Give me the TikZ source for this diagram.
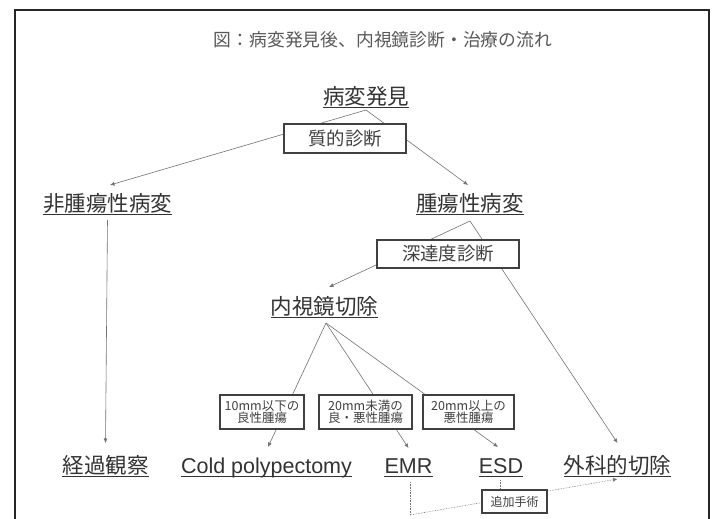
\documentclass[tikz,border=0pt]{standalone}
\usepackage{fontspec}
\setmainfont{Liberation Sans}
\newfontfamily\jp{Noto Sans CJK JP}
\usetikzlibrary{arrows.meta}
\begin{document}
\begin{tikzpicture}[x=1pt,y=-1pt,
  lbl/.style={inner sep=0pt, anchor=base, text=black!80, font=\fontsize{21.5}{24}\selectfont},
  jl/.style={lbl, font=\jp\fontsize{21.5}{24}\selectfont},
  box/.style={draw=black!75, line width=1.1pt, fill=white, inner sep=0pt, align=center, text=black!75},
  bigbox/.style={box, font=\jp\fontsize{18.4}{20}\selectfont},
  smallbox/.style={box, minimum height=34pt, font=\jp\fontsize{12.5}{12.5}\selectfont},
  conn/.style={draw=black!55, line width=0.6pt},
  arr/.style={conn, -{Latex[length=4.5pt,width=4pt]}},
  dotl/.style={conn, densely dotted},
  dotarr/.style={dotl, -{Latex[length=4.5pt,width=4pt]}},
  ul/.style={draw=black!80, line width=0.8pt}
]
\useasboundingbox (0,0) rectangle (718,519);
\fill[white] (0,0) rectangle (718,519);
% frame
\draw[black!85, line width=1.4pt] (15,530) -- (15,10) -- (709,10) -- (709,530);
% title
\node[font=\jp\fontsize{17.8}{20}\selectfont, text=black!65, inner sep=0pt] (title) at (383,40) {図：病変発見後、内視鏡診断・治療の流れ};

% labels
\node[jl] (hakken) at (366,104) {病変発見};
\node[jl] (hishuyo) at (107.5,211) {非腫瘍性病変};
\node[jl] (shuyo) at (470,211) {腫瘍性病変};
\node[jl] (naishi) at (324.5,314) {内視鏡切除};
\node[jl] (keika) at (105.5,473) {経過観察};
\node[lbl] (cold) at (266.5,473) {Cold polypectomy};
\node[lbl] (emr) at (408.5,473) {EMR};
\node[lbl] (esd) at (501,473) {ESD};
\node[jl] (geka) at (617.5,473) {外科的切除};

\foreach \n in {hakken,hishuyo,shuyo,naishi,keika,cold,emr,esd,geka}
  \draw[ul] ([yshift=-3.5pt]\n.base west) -- ([yshift=-3.5pt]\n.base east);

% connector end points
\coordinate (hakkenB) at ([yshift=-6pt]hakken.base);
\coordinate (hishuyoT) at ([xshift=2.5pt,yshift=26pt]hishuyo.base);
\coordinate (hishuyoB) at ([yshift=-9pt]hishuyo.base);
\coordinate (shuyoT) at ([xshift=-2pt,yshift=26pt]shuyo.base);
\coordinate (shuyoB) at ([yshift=-10pt]shuyo.base);
\coordinate (naishiT) at ([xshift=4.5pt,yshift=27pt]naishi.base);
\coordinate (naishiB) at ([xshift=1.5pt,yshift=-9pt]naishi.base);
\coordinate (keikaT) at ([yshift=30pt]keika.base);
\coordinate (coldT) at ([xshift=1.5pt,yshift=26pt]cold.base);
\coordinate (emrT) at ([yshift=25pt]emr.base);
\coordinate (emrB) at ([xshift=1.5pt,yshift=-9pt]emr.base);
\coordinate (esdT) at ([xshift=-3pt,yshift=26pt]esd.base);
\coordinate (esdB) at ([xshift=-1pt,yshift=-7pt]esd.base);
\coordinate (gekaT) at ([yshift=30pt]geka.base);
\coordinate (gekaB) at ([yshift=-6pt]geka.base);
\coordinate (corner) at (emrB |- 0,515);

% connectors (drawn beneath boxes)
\draw[arr] (hakkenB) -- (hishuyoT);
\draw[arr] (hakkenB) -- (shuyoT);
\draw[arr] (hishuyoB) -- (keikaT);
\draw[arr] (shuyoB) -- (naishiT);
\draw[arr] (shuyoB) -- (gekaT);
\draw[arr] (naishiB) -- (coldT);
\draw[arr] (naishiB) -- (emrT);
\draw[arr] (naishiB) -- (esdT);
\draw[dotl] (emrB) -- (corner);
\draw[dotarr] (corner) -- (gekaB);

% boxes
\node[bigbox, minimum width=122pt, minimum height=29pt] (shitsu) at (345,138.5) {質的診断};
\node[bigbox, minimum width=142pt, minimum height=28pt] (shintatsu) at (448,254) {深達度診断};
\node[smallbox, minimum width=84pt] (b1) at (262,412) {10mm以下の\\良性腫瘍};
\node[smallbox, minimum width=93pt] (b2) at (365.5,412) {20mm未満の\\良・悪性腫瘍};
\node[smallbox, minimum width=91pt] (b3) at (468.5,412) {20mm以上の\\悪性腫瘍};
\node[box, minimum width=65pt, minimum height=23pt, font=\jp\fontsize{12}{12}\selectfont] (tsuika) at (514.5,501.5) {追加手術};

\draw[dotl] (esdB) -- (esdB |- tsuika.north);
\end{tikzpicture}
\end{document}
